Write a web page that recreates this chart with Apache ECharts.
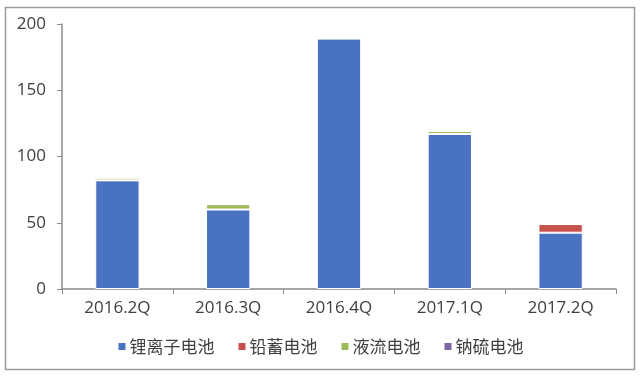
<!DOCTYPE html>
<html><head><meta charset="utf-8">
<script src="https://cdn.jsdelivr.net/npm/echarts@6/dist/echarts.min.js"></script>
<style>html,body{margin:0;padding:0;background:#fff}#c{width:640px;height:379px}</style>
</head><body><div id="c"></div>
<script>
const categories = ['2016.2Q','2016.3Q','2016.4Q','2017.1Q','2017.2Q'];
const seriesNames = ['锂离子电池','铅蓄电池','液流电池','钠硫电池'];
const liIon = [82, 60, 189, 117, 42.5];
const leadAcid = [0, 0, 0, 0, 6.5];
const flow = [2, 4, 0.8, 2.3, 0];
const naS = [0, 0, 0, 0, 0];
const yTicks = [0, 50, 100, 150, 200];
const colors = ['#4A72C2','#C8504C','#9BBB59','#8064A2'];
const values = [liIon, leadAcid, flow, naS];

const chart = echarts.init(document.getElementById('c'), null, {renderer:'canvas'});
const axisColor = '#8a8a8a';
const textColor = '#404040';
chart.setOption({
  animation:false,
  color: colors,
  textStyle:{fontFamily:'"Open Sans","Noto Sans CJK SC",sans-serif'},
  graphic:[{type:'rect', shape:{x:5.5,y:7.5,width:629,height:362}, style:{fill:'none', stroke:'#9a9a9a', lineWidth:1.5}, silent:true, z:-1}],
  grid:{left:62, right:24, top:24, bottom:90},
  legend:{
    data: seriesNames, bottom:19, left:'center', itemWidth:9, itemHeight:9, itemGap:22,
    icon:'rect',
    textStyle:{fontSize:17, color:textColor, fontFamily:'"Noto Sans CJK SC",sans-serif', padding:[0,0,0,-2]}
  },
  xAxis:{
    type:'category', data:categories,
    axisLine:{lineStyle:{color:axisColor, width:1.5}},
    axisTick:{show:true, length:5, lineStyle:{color:axisColor}, alignWithLabel:false},
    axisLabel:{fontSize:17, color:textColor, margin:11}
  },
  yAxis:{
    type:'value', min:yTicks[0], max:yTicks[yTicks.length-1], interval:50,
    axisLine:{show:true, lineStyle:{color:axisColor, width:1.5}},
    axisTick:{show:true, length:5, lineStyle:{color:axisColor}},
    splitLine:{show:false},
    axisLabel:{fontSize:17, color:textColor, margin:16}
  },
  series: seriesNames.map((n,i)=>({
    name:n, type:'bar', stack:'total', data:values[i], barWidth:'40%',
    itemStyle:{color:colors[i], borderColor:'#ffffff', borderWidth:1}
  }))
});
</script></body></html>
